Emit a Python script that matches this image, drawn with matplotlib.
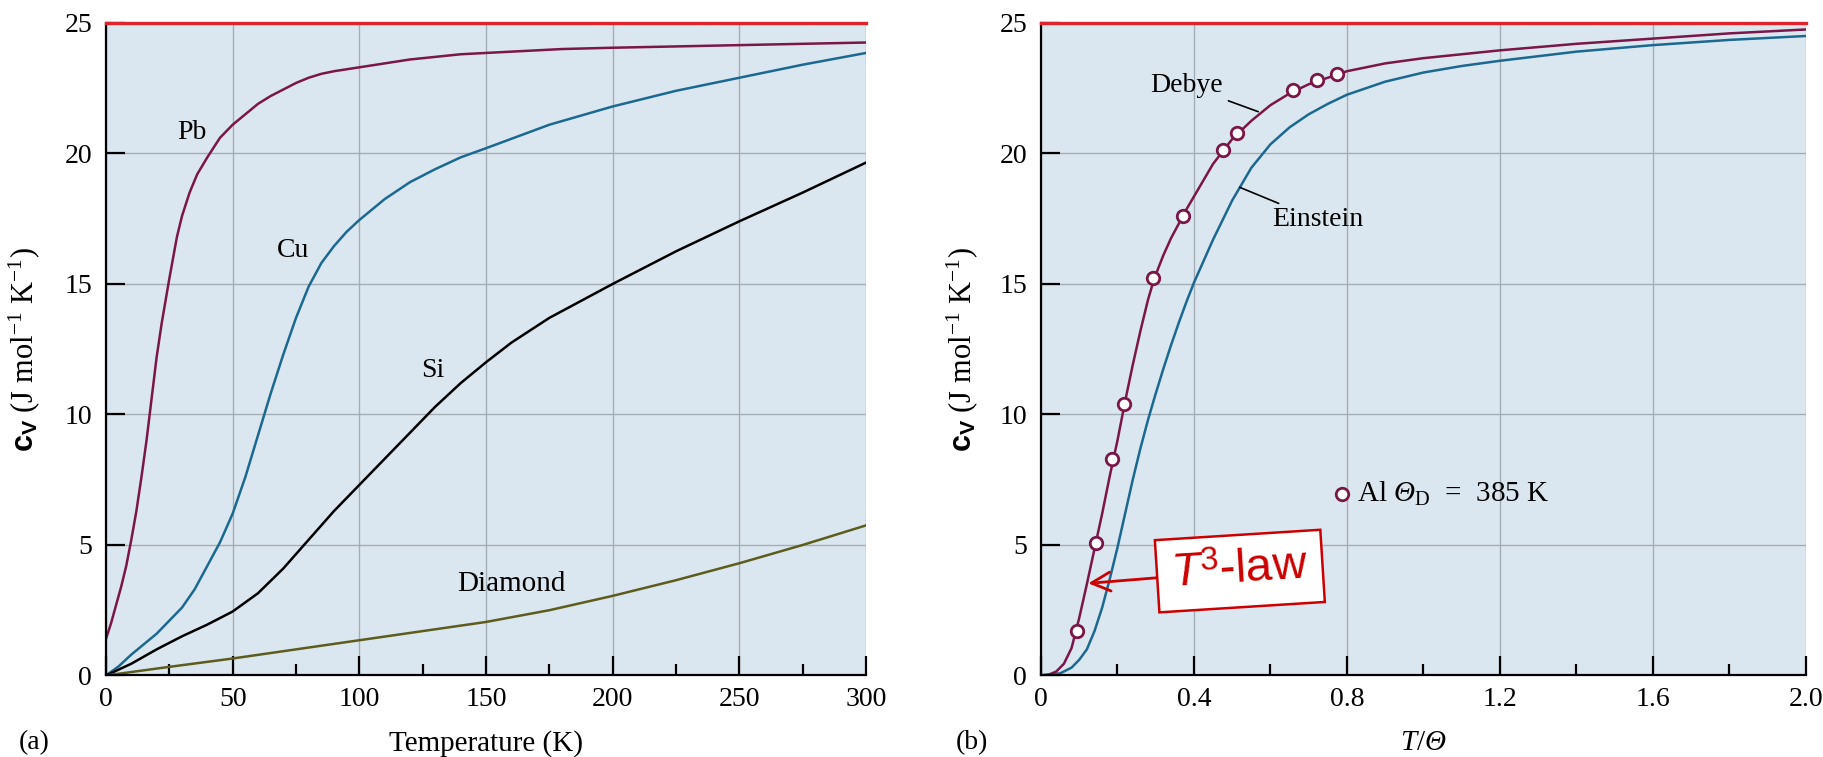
import numpy as np
import matplotlib
matplotlib.use('Agg')
import matplotlib.pyplot as plt
from matplotlib.ticker import MultipleLocator, FixedLocator

plt.rcParams['font.family'] = ['Liberation Serif', 'DejaVu Serif']
plt.rcParams['mathtext.fontset'] = 'custom'
plt.rcParams['mathtext.rm'] = 'Liberation Serif'
plt.rcParams['mathtext.it'] = 'Liberation Serif:italic'
plt.rcParams['mathtext.bf'] = 'Liberation Sans:bold'
plt.rcParams['mathtext.sf'] = 'Liberation Sans:italic'
plt.rcParams['mathtext.tt'] = 'Liberation Sans'
plt.rcParams['mathtext.cal'] = 'Liberation Serif:italic'

# ---- panel (a): measured heat capacities ----
T_pb = [0, 2, 4, 6, 8, 10, 12, 14, 16, 18, 20, 22, 25, 28, 30, 33, 36, 40, 45, 50,
        55, 60, 65, 70, 75, 80, 85, 90, 100, 120, 140, 160, 180, 200, 250, 300]
cv_pb = [1.4, 2.0, 2.7, 3.4, 4.2, 5.2, 6.3, 7.6, 9.0, 10.6, 12.2, 13.5, 15.2, 16.8, 17.6, 18.5, 19.2, 19.85, 20.6, 21.1,
         21.5, 21.9, 22.2, 22.45, 22.7, 22.9, 23.05, 23.15, 23.3, 23.6, 23.8, 23.9, 24.0, 24.05, 24.15, 24.25]

T_cu = [0, 5, 10, 15, 20, 25, 30, 35, 40, 45, 50, 55, 60, 65, 70, 75, 80, 85, 90, 95,
        100, 110, 120, 130, 140, 150, 175, 200, 225, 250, 275, 300]
cv_cu = [0, 0.35, 0.8, 1.2, 1.6, 2.1, 2.6, 3.3, 4.2, 5.1, 6.2, 7.6, 9.2, 10.8, 12.3, 13.7, 14.9, 15.8, 16.45, 17.0,
         17.45, 18.25, 18.9, 19.4, 19.85, 20.2, 21.1, 21.8, 22.4, 22.9, 23.4, 23.85]

T_si = [0, 10, 20, 30, 40, 50, 60, 70, 80, 90, 100, 110, 120, 130, 140, 150, 160, 175,
        200, 225, 250, 275, 300]
cv_si = [0, 0.45, 1.0, 1.5, 1.95, 2.45, 3.15, 4.1, 5.2, 6.3, 7.3, 8.3, 9.3, 10.3, 11.2, 12.0, 12.75, 13.7,
         15.0, 16.25, 17.4, 18.5, 19.65]

T_dia = [0, 25, 50, 75, 100, 125, 150, 175, 200, 225, 250, 275, 300]
cv_dia = [0, 0.33, 0.65, 1.0, 1.35, 1.7, 2.05, 2.5, 3.05, 3.65, 4.3, 5.0, 5.75]

# ---- panel (b): Debye / Einstein models, Al data ----
t_debye = [0, 0.02, 0.04, 0.06, 0.08, 0.1, 0.12, 0.14, 0.16, 0.18, 0.2, 0.22, 0.24, 0.26, 0.28, 0.29,
           0.3, 0.32, 0.34, 0.36, 0.38, 0.4, 0.45, 0.5, 0.55, 0.6, 0.65, 0.7, 0.8, 0.9, 1.0, 1.2, 1.4,
           1.6, 1.8, 2.0]
cv_debye = [0, 0.03, 0.15, 0.45, 1.05, 2.2, 3.5, 4.85, 6.2, 7.65, 9.0, 10.5, 11.9, 13.2, 14.4, 14.9,
            15.35, 16.1, 16.75, 17.3, 17.85, 18.35, 19.6, 20.55, 21.25, 21.85, 22.3, 22.65, 23.15, 23.45,
            23.65, 23.95, 24.2, 24.4, 24.6, 24.75]

t_einstein = [0, 0.05, 0.08, 0.1, 0.12, 0.14, 0.16, 0.18, 0.2, 0.22, 0.24, 0.26, 0.28, 0.3, 0.32,
              0.34, 0.36, 0.38, 0.4, 0.45, 0.5, 0.55, 0.6, 0.65, 0.7, 0.75, 0.8, 0.9, 1.0, 1.1,
              1.2, 1.4, 1.6, 1.8, 2.0]
cv_einstein = [0, 0.08, 0.3, 0.6, 1.0, 1.7, 2.6, 3.7, 4.9, 6.2, 7.5, 8.7, 9.8, 10.8, 11.75,
               12.65, 13.5, 14.3, 15.05, 16.7, 18.2, 19.45, 20.35, 21.0, 21.5, 21.9, 22.25, 22.75,
               23.1, 23.35, 23.55, 23.9, 24.15, 24.35, 24.5]

t_al = [0.093, 0.143, 0.187, 0.218, 0.294, 0.372, 0.475, 0.512, 0.66, 0.723, 0.773]
cv_al = [1.72, 5.07, 8.29, 10.4, 15.23, 17.6, 20.13, 20.8, 22.44, 22.8, 23.05]

dulong_petit = 25

bg = '#dbe7f0'
grid_c = '#a3adb6'
purple = '#7a1648'
blue = '#1b6890'
olive = '#5e5c1c'
red = '#e0242e'
fs = 20

fig = plt.figure(figsize=(18.24, 7.57), dpi=100)
axa = fig.add_axes([0.0581, 0.1077, 0.4167, 0.862])
axb = fig.add_axes([0.5707, 0.1077, 0.4194, 0.862])

ylab = r'$\mathbf{c}_{\mathbf{V}}$ (J mol$^{-1}$ K$^{-1}$)'

for ax in (axa, axb):
    ax.set_facecolor(bg)
    ax.set_ylim(0, 25)
    for s in ('top', 'right'):
        ax.spines[s].set_visible(False)
    for s in ('left', 'bottom'):
        ax.spines[s].set_linewidth(1.6)
    ax.yaxis.set_major_locator(MultipleLocator(5))
    ax.tick_params(which='major', direction='in', length=14, width=1.6, labelsize=fs, pad=8)
    ax.tick_params(which='minor', direction='in', length=8, width=1.6)
    ax.tick_params(axis='y', which='major', pad=10)
    ax.grid(True, which='major', color=grid_c, lw=1.0)
    ax.set_axisbelow(True)
    ax.axhline(dulong_petit, color=red, lw=2.4, clip_on=False, zorder=5)
    ax.set_ylabel(ylab, fontsize=22)

# panel (a)
axa.set_xlim(0, 300)
axa.xaxis.set_major_locator(MultipleLocator(50))
axa.xaxis.set_minor_locator(MultipleLocator(25))
axa.plot(T_pb, cv_pb, color=purple, lw=1.8)
axa.plot(T_cu, cv_cu, color=blue, lw=1.8)
axa.plot(T_si, cv_si, color='black', lw=1.8)
axa.plot(T_dia, cv_dia, color=olive, lw=1.8)
axa.text(34, 20.8, 'Pb', fontsize=fs, ha='center', va='center')
axa.text(74, 16.3, 'Cu', fontsize=fs, ha='center', va='center')
axa.text(129, 11.7, 'Si', fontsize=fs, ha='center', va='center')
axa.text(160, 3.5, 'Diamond', fontsize=21, ha='center', va='center')
axa.set_xlabel('Temperature (K)', fontsize=21)
axa.xaxis.set_label_coords(0.5, -0.083)
axa.yaxis.set_label_coords(-0.084, 0.5)

# panel (b)
axb.set_xlim(0, 2.0)
axb.xaxis.set_major_locator(FixedLocator([0, 0.4, 0.8, 1.2, 1.6, 2.0]))
axb.xaxis.set_minor_locator(MultipleLocator(0.2))
axb.set_xticklabels(['0', '0.4', '0.8', '1.2', '1.6', '2.0'])
axb.plot(t_einstein, cv_einstein, color=blue, lw=1.8)
axb.plot(t_debye, cv_debye, color=purple, lw=1.8)
axb.plot(t_al, cv_al, 'o', ms=9, mfc='white', mec=purple, mew=2.0, zorder=4)
axb.annotate('Debye', xy=(0.568, 21.6), xytext=(0.381, 22.6), fontsize=fs, ha='center', va='center',
             arrowprops=dict(arrowstyle='-', color='black', lw=1.2, shrinkA=2, shrinkB=0))
axb.annotate('Einstein', xy=(0.52, 18.7), xytext=(0.725, 17.46), fontsize=fs, ha='center', va='center',
             arrowprops=dict(arrowstyle='-', color='black', lw=1.2, shrinkA=2, shrinkB=0))
axb.plot([0.786], [6.94], 'o', ms=9, mfc='white', mec=purple, mew=2.0)
axb.text(0.825, 6.94, r'Al $\mathcal{\Theta}_{\mathrm{D}}$  =  385 K', fontsize=21, ha='left', va='center')
axb.annotate(r'$\mathsf{T}^{\mathtt{3}}$-law', xy=(0.124, 3.53), xytext=(0.52, 4.0),
             fontsize=34, color='#cc0000', family='Liberation Sans', rotation=3.6,
             ha='center', va='center', rotation_mode='anchor',
             bbox=dict(boxstyle='square,pad=0.3', fc='white', ec='#cc0000', lw=1.8),
             arrowprops=dict(arrowstyle='->', color='#cc0000', lw=2.0, shrinkA=0, shrinkB=0),
             zorder=6)
axb.set_xlabel(r'$\mathit{T}/\mathcal{\Theta}$', fontsize=21)
axb.xaxis.set_label_coords(0.5, -0.083)
axb.yaxis.set_label_coords(-0.080, 0.5)

fig.text(0.019, 0.0185, '(a)', fontsize=fs, ha='center', va='center')
fig.text(0.533, 0.0185, '(b)', fontsize=fs, ha='center', va='center')

fig.savefig('out.png', dpi=100, facecolor='white')
